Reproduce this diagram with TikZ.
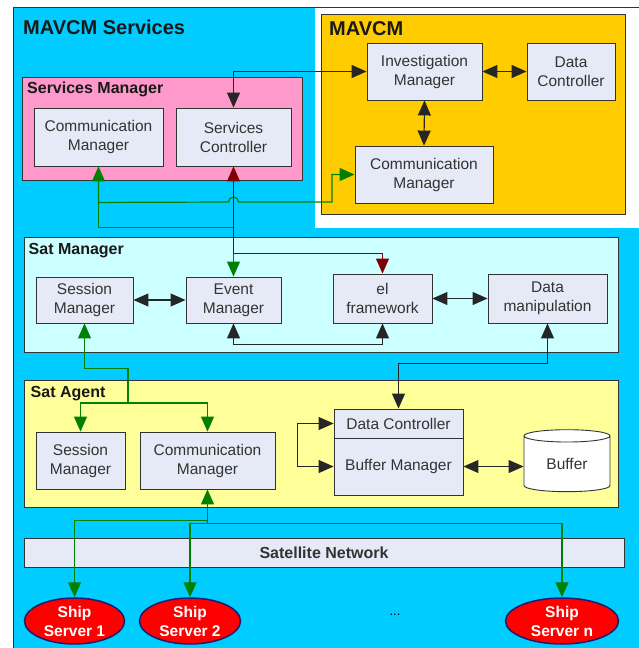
\documentclass[tikz,border=0pt]{standalone}
\usepackage{fontspec}
\setmainfont{Liberation Sans}
\usetikzlibrary{arrows.meta,shapes.geometric}

\definecolor{skyblue}{HTML}{00CCFF}
\definecolor{mavyellow}{HTML}{FFCC00}
\definecolor{pinkish}{HTML}{FF99CC}
\definecolor{paleblue}{HTML}{CCFFFF}
\definecolor{paleyellow}{HTML}{FFFF99}
\definecolor{boxgray}{HTML}{E6EAF6}
\definecolor{navy}{HTML}{1C1C70}
\definecolor{linkgreen}{HTML}{008000}
\definecolor{linkred}{HTML}{800000}

\begin{document}
\begin{tikzpicture}[
x=1pt, y=-1pt,
>={Triangle[length=15pt,width=13pt]},
    B/.style = {rectangle, draw=black!80, fill=boxgray, line width=0.9pt,% styles of inner boxes
                align=center, inner sep=0pt, text=black!80,
                font=\fontsize{15.5}{19}\selectfont},
    P/.style = {draw=black!80, line width=1pt},% styles of panels
    T/.style = {anchor=base west, inner sep=0pt, text=black!90,
                font=\fontsize{16}{19}\selectfont\bfseries},
    E/.style = {ellipse, draw=navy, line width=1.5pt, fill=red, text=white,
                align=center, inner sep=0pt, minimum height=46,
                font=\fontsize{15.5}{19}\selectfont\bfseries},
    A/.style = {draw=black!85, line width=1.1pt},% styles of links
    G/.style = {draw=linkgreen, line width=1.2pt},
    R/.style = {draw=linkred, line width=1pt},
                        ]
\useasboundingbox (0,0) rectangle (639,648);
\fill[white] (0,0) rectangle (639,648);
% panels
\draw[P, fill=skyblue] (13,7) rectangle (660,660);
\fill[white] (315,7.6) rectangle (660,228);
\draw[P, fill=mavyellow] (321,14) rectangle (625,214);
\draw[P, fill=pinkish] (22,77) rectangle (302,180);
\draw[P, fill=paleblue] (24,237) rectangle (618,352);
\draw[P, fill=paleyellow] (24,380) rectangle (618,507);
\node[T, font=\fontsize{20}{24}\selectfont\bfseries] (ttl) at (23,34) {MAVCM Services};
\node[T, font=\fontsize{20}{24}\selectfont\bfseries] (tmav) at (329,35) {MAVCM};
\node[T] (tsm) at (27,93) {Services Manager};
\node[T] (tsat) at (28.5,254) {Sat Manager};
\node[T] (tag) at (30.5,397) {Sat Agent};
% MAVCM
\node[B, minimum width=115, minimum height=57] (im) at (424.5,71.5) {Investigation\\Manager};
\node[B, minimum width=88, minimum height=57] (dc) at (571,71.5) {Data\\Controller};
\node[B, minimum width=138, minimum height=57] (mcm) at (424,174.5) {Communication\\Manager};
% Services Manager
\node[B, minimum width=129, minimum height=58] (scm) at (98.5,137) {Communication\\Manager};
\node[B, minimum width=115, minimum height=58] (sc) at (233.5,137) {Services\\Controller};
% Sat Manager
\node[B, minimum width=97, minimum height=46] (sesm) at (84.5,300) {Session\\Manager};
\node[B, minimum width=95, minimum height=46] (evm) at (233.5,300) {Event\\Manager};
\node[B, minimum width=99, minimum height=49] (elf) at (382.5,298.5) {el\\framework};
\node[B, minimum width=119, minimum height=49] (dman) at (547.5,298.5) {Data\\manipulation};
% Sat Agent
\node[B, minimum width=89, minimum height=57] (sases) at (80.5,460.5) {Session\\Manager};
\node[B, minimum width=135, minimum height=57] (sacm) at (207.5,460.5) {Communication\\Manager};
\node[B, minimum width=129, minimum height=29] (sadc) at (398.5,423.5) {Data Controller};
\node[B, minimum width=129, minimum height=57] (sabm) at (398.5,466.5) {Buffer Manager};
\node[B, cylinder, shape border rotate=90, aspect=0.3, fill=white,
      minimum width=86, minimum height=62] (buf) at (567,464) {Buffer};
% network and ships
\node[B, minimum width=600, minimum height=29,
      font=\fontsize{16}{19}\selectfont\bfseries] (net) at (324,552.5) {Satellite Network};
\foreach \i/\x/\w in {1/74.5/100,2/190/101,n/562/113}% <-- ship servers
    \node[E, minimum width=\w] (s\i) at (\x,621) {Ship\\Server \i};
\node[font=\fontsize{13}{15}\selectfont] (dots) at (395,615) {...};
% links
\draw[A,<->] (sc.north) |- (im.west);
\draw[A,<->] (im.east) -- (dc.west);
\draw[A,<->] (im.south) -- (mcm.north);
\draw[G,<->] (scm.south) -- ++(0,36) coordinate (g1) -- (228.5,202)
    arc[start angle=180, end angle=0, radius=5pt] -- (332,202) |- (mcm.west);
\draw[G,->] (g1) -- ++(0,25) -| (evm.north);
\draw[R,<->] (sc.south) -- ++(0,87) -| (elf.north);
\draw[A,<->] (sesm.east) -- (evm.west);
\draw[A,<->] (elf.east) -- (dman.west);
\draw[A,<->] (evm.south) -- ++(0,21) -| (elf.south);
\draw[A,<->] (dman.south) -- ++(0,40) -| (sadc.north);
\coordinate (g2) at (128,403);
\draw[G,<-] (sesm.south) -- ++(0,45) -| (g2);
\draw[G,->] (g2) -| (sases.north);
\draw[G,->] (g2) -| (sacm.north);
\draw[A,<->] (sadc.west) -- ++(-36,0) |- (sabm.west);
\draw[A,<->] (sabm.east) -- (sabm.east -| buf.west);
\draw[G,<-] (sacm.south) -- ++(0,34) coordinate (g3);
\draw[G,->] (g3) ++(0,-3) -| (s1.north);
\foreach \i in {2,n}
    \draw[G,->] (g3) -| (s\i.north);
\end{tikzpicture}
\end{document}
